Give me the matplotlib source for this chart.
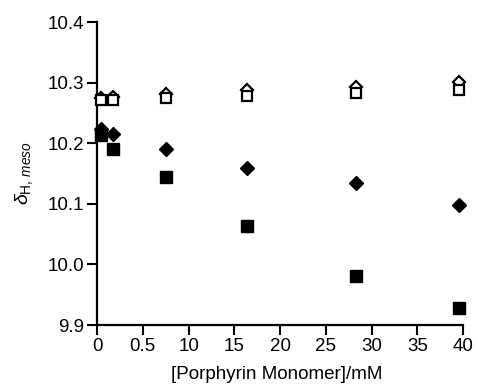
import numpy as np
import matplotlib
matplotlib.use("Agg")
import matplotlib.pyplot as plt

plt.rcParams['font.family'] = ['Liberation Sans', 'DejaVu Sans']
plt.rcParams['mathtext.fontset'] = 'custom'
plt.rcParams['mathtext.rm'] = 'Liberation Sans'
plt.rcParams['mathtext.it'] = 'Liberation Sans:italic'

# concentration of porphyrin monomer (mM)
conc = [0.4, 1.75, 7.5, 16.4, 28.3, 39.5]

# chemical shifts of meso proton
open_diamond = [10.274, 10.277, 10.281, 10.287, 10.293, 10.301]
open_square = [10.271, 10.271, 10.275, 10.278, 10.283, 10.288]
filled_diamond = [10.223, 10.216, 10.190, 10.159, 10.135, 10.098]
filled_square = [10.214, 10.191, 10.145, 10.063, 9.981, 9.928]

xticks = [0, 5, 10, 15, 20, 25, 30, 35, 40]
xticklabels = ['0', '0.5', '10', '15', '20', '25', '30', '35', '40']
yticks = [9.9, 10.0, 10.1, 10.2, 10.3, 10.4]
yticklabels = ['9.9', '10.0', '10.1', '10.2', '10.3', '10.4']

fig = plt.figure(figsize=(4.78, 3.86), dpi=100)
ax = fig.add_axes([0.203, 0.158, 0.766, 0.785])

ax.plot(conc, open_diamond, 'D', ms=6.5, mfc='white', mec='black', mew=1.6, ls='none', clip_on=False, zorder=3)
ax.plot(conc, open_square, 's', ms=7, mfc='white', mec='black', mew=1.6, ls='none', clip_on=False, zorder=4)
ax.plot(conc, filled_diamond, 'D', ms=7, color='black', ls='none', clip_on=False, zorder=5)
ax.plot(conc, filled_square, 's', ms=8.5, color='black', ls='none', clip_on=False, zorder=5)

ax.set_xlim(0, 40)
ax.set_ylim(9.9, 10.4)
ax.set_xticks(xticks)
ax.set_xticklabels(xticklabels)
ax.set_yticks(yticks)
ax.set_yticklabels(yticklabels)

for s in ['top', 'right']:
    ax.spines[s].set_visible(False)
for s in ['left', 'bottom']:
    ax.spines[s].set_linewidth(1.6)
ax.tick_params(direction='out', length=7, width=1.5, labelsize=13.5, pad=2)

ax.set_xlabel('[Porphyrin Monomer]/mM', fontsize=13.5)
ax.xaxis.set_label_coords(0.49, -0.135)
ax.set_ylabel(r'$\mathit{\delta}_{\mathrm{H},\,\mathit{meso}}$', fontsize=14, labelpad=9)

fig.savefig('out.png', dpi=100)
